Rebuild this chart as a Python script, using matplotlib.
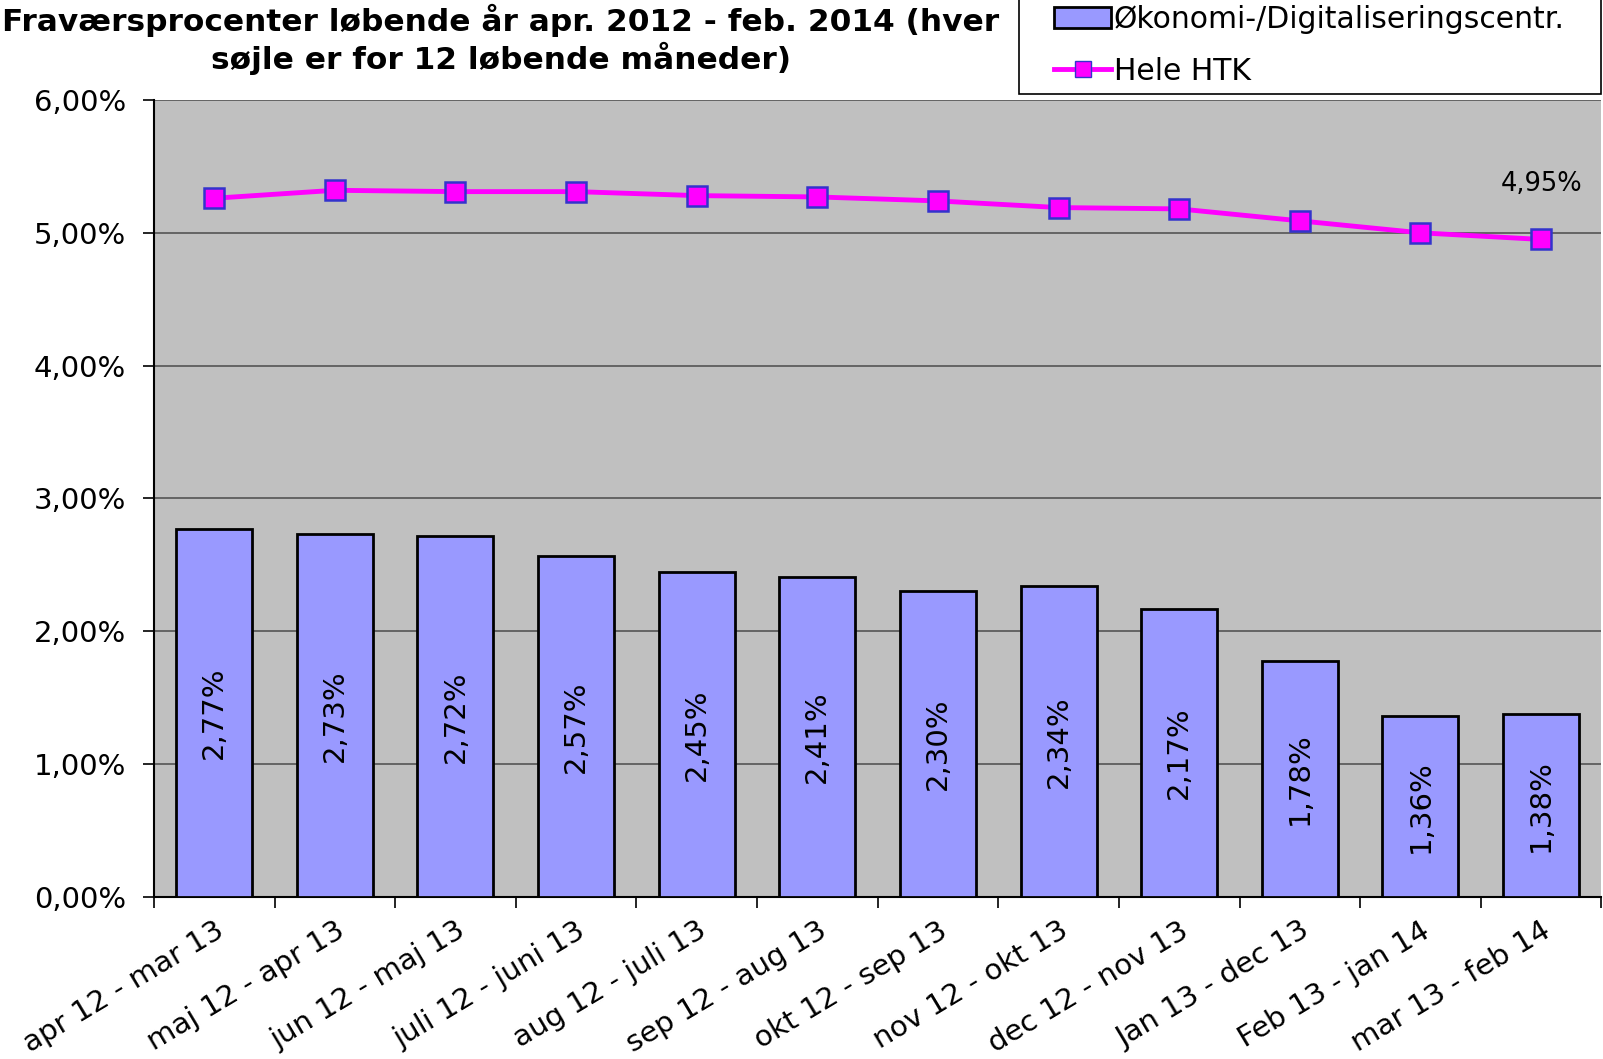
import matplotlib

matplotlib.use("Agg")
import matplotlib.pyplot as plt
from matplotlib.lines import Line2D
from matplotlib.patches import Patch, Rectangle
from matplotlib.ticker import FuncFormatter, FixedLocator


PERIODS = [
    "apr 12 - mar 13", "maj 12 - apr 13", "jun 12 - maj 13", "juli 12 - juni 13",
    "aug 12 - juli 13", "sep 12 - aug 13", "okt 12 - sep 13", "nov 12 - okt 13",
    "dec 12 - nov 13", "Jan 13 - dec 13", "Feb 13 - jan 14", "mar 13 - feb 14",
]
OEKONOMI = [2.77, 2.73, 2.72, 2.57, 2.45, 2.41, 2.30, 2.34, 2.17, 1.78, 1.36, 1.38]
HELE_HTK = [5.26, 5.32, 5.31, 5.31, 5.28, 5.27, 5.24, 5.19, 5.18, 5.09, 5.00, 4.95]

BAR_COLOR = "#9999FF"
LINE_COLOR = "#FF00FF"
MARKER_EDGE = "#3333CC"
BG_COLOR = "#C0C0C0"


def pct(v, decimals=2):
    return f"{v:.{decimals}f}%".replace(".", ",")


fig = plt.figure(figsize=(16.03, 10.59), dpi=100)
ax = fig.add_axes([0.096, 0.153, 0.903, 0.7526])
ax.set_facecolor(BG_COLOR)

x = list(range(len(PERIODS)))
ax.bar(x, OEKONOMI, width=0.63, color=BAR_COLOR, edgecolor="black", linewidth=2, zorder=3)
for xi, v in zip(x, OEKONOMI):
    ax.text(xi, v / 2, pct(v), rotation=90, ha="center", va="center", fontsize=21, zorder=4)

ax.plot(x, HELE_HTK, color=LINE_COLOR, linewidth=3.5, marker="s", markersize=14,
        markerfacecolor=LINE_COLOR, markeredgecolor=MARKER_EDGE, markeredgewidth=1.8, zorder=5)
ax.text(x[-1], HELE_HTK[-1] + 0.42, pct(HELE_HTK[-1]), ha="center", va="center", fontsize=18.5, zorder=5)

ax.set_xlim(-0.5, len(PERIODS) - 0.5)
ax.set_ylim(0, 6)
ax.yaxis.set_major_locator(FixedLocator([0, 1, 2, 3, 4, 5, 6]))
ax.yaxis.set_major_formatter(FuncFormatter(lambda v, _: pct(v)))
ax.grid(axis="y", color="#555555", linewidth=1.2, zorder=0)
ax.set_axisbelow(True)

ax.set_xticks(x)
ax.set_xticklabels(PERIODS, rotation=31, ha="right", rotation_mode="anchor", fontsize=21)
ax.tick_params(axis="x", which="major", length=0, pad=14)
ax.set_xticks([i - 0.5 for i in range(len(PERIODS) + 1)], minor=True)
ax.tick_params(axis="x", which="minor", length=8, width=1.2, direction="out")
ax.tick_params(axis="y", labelsize=21, length=8, width=1.2, direction="out", pad=12)

for side in ("top", "right"):
    ax.spines[side].set_visible(False)
for side in ("left", "bottom"):
    ax.spines[side].set_color("black")
    ax.spines[side].set_linewidth(1.5)

fig.text(0.3125, 0.981, "Fraværsprocenter løbende år apr. 2012 - feb. 2014 (hver",
         ha="center", va="center", fontsize=22.5, fontweight="bold")
fig.text(0.3125, 0.945, "søjle er for 12 løbende måneder)",
         ha="center", va="center", fontsize=22.5, fontweight="bold")

# legend frame drawn by hand: the original box is wider than it is tall-padded
fig.patches.append(Rectangle((0.6357, 0.9112), 0.3631, 0.2, transform=fig.transFigure,
                             facecolor="white", edgecolor="black", linewidth=1.2, zorder=1))

handles = [
    Patch(facecolor=BAR_COLOR, edgecolor="black", linewidth=2),
    Line2D([0], [0], color=LINE_COLOR, linewidth=3.5, marker="s", markersize=12,
           markerfacecolor=LINE_COLOR, markeredgecolor=MARKER_EDGE),
]
leg = fig.legend(handles, ["Økonomi-/Digitaliseringscentr.", "Hele HTK"],
                 loc="upper left", bbox_to_anchor=(0.6325, 1.033), fontsize=21.5,
                 frameon=False, handlelength=1.9, handletextpad=0.1,
                 labelspacing=0.75, borderpad=0.85)
leg.set_zorder(2)

fig.savefig("out.png", dpi=100)
